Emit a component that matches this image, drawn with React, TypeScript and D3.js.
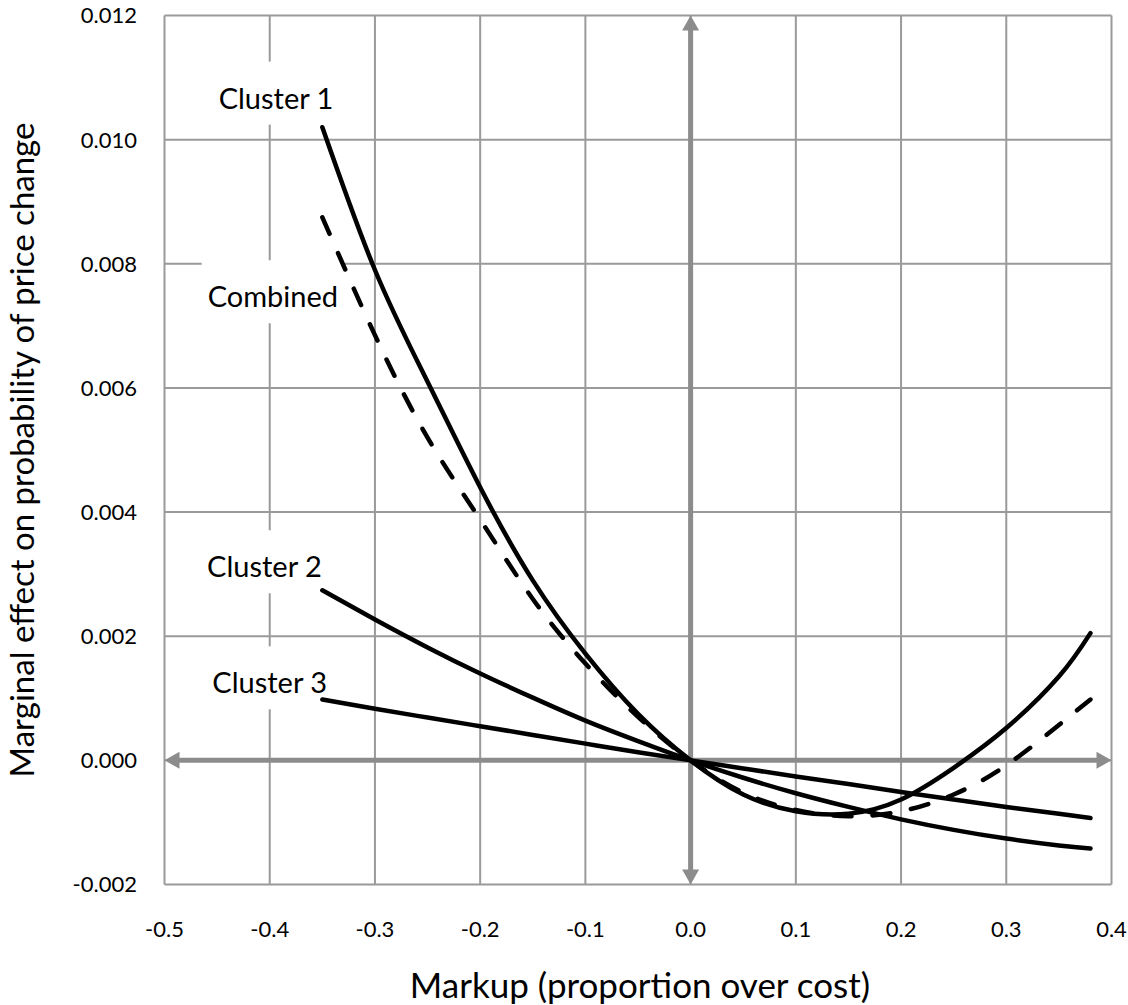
import React, { useEffect, useRef } from 'react';
import * as d3 from 'd3';

const markup = [-0.35, -0.3, -0.25, -0.2, -0.15, -0.1, -0.05, 0, 0.05, 0.1, 0.15, 0.2, 0.25, 0.3, 0.35, 0.38];
const cluster1 = [0.0102, 0.0079, 0.0061, 0.0044, 0.0029, 0.00172, 0.00075, 0, -0.00055, -0.00082, -0.00086, -0.00063, -0.00012, 0.00052, 0.00135, 0.00205];
const combined = [0.00875, 0.00685, 0.0052, 0.00388, 0.0026, 0.00156, 0.0007, 0, -0.00052, -0.0008, -0.0009, -0.00082, -0.00055, -0.00008, 0.00057, 0.00098];
const cluster2 = [0.00274, 0.00227, 0.00182, 0.0014, 0.00101, 0.00064, 0.00031, 0, -0.00028, -0.00053, -0.00075, -0.00095, -0.00112, -0.00126, -0.00137, -0.00142];
const cluster3 = [0.00098, 0.00083, 0.00069, 0.00055, 0.00041, 0.00027, 0.00013, 0, -0.00013, -0.00026, -0.00038, -0.00051, -0.00063, -0.00075, -0.00086, -0.00093];

const xTicks = [-0.5, -0.4, -0.3, -0.2, -0.1, 0, 0.1, 0.2, 0.3, 0.4];
const yTicks = [-0.002, 0, 0.002, 0.004, 0.006, 0.008, 0.01, 0.012];

const labels = [
  { name: 'Cluster 1', x: -0.394, y: 0.0105 },
  { name: 'Combined', x: -0.397, y: 0.0073 },
  { name: 'Cluster 2', x: -0.405, y: 0.00295 },
  { name: 'Cluster 3', x: -0.4, y: 0.00108 },
];

const font = 'Lato, "Open Sans", sans-serif';
// hyphen minus like the original, not d3's unicode minus
const fmt = (p: number) => (d: number) => d.toFixed(p);

export default function App() {
  const ref = useRef<SVGSVGElement>(null);

  useEffect(() => {
    const svg = d3.select(ref.current);
    svg.selectAll('*').remove();

    const x = d3.scaleLinear().domain([-0.5, 0.4]).range([164.5, 1111.5]);
    const y = d3.scaleLinear().domain([-0.002, 0.012]).range([884.5, 15.5]);
    const grid = '#9a9a9a';
    const axisCol = '#8c8c8c';

    const g = svg.append('g');

    // grid
    g.selectAll('.vx').data(xTicks).enter().append('line')
      .attr('x1', d => x(d)).attr('x2', d => x(d))
      .attr('y1', y(0.012)).attr('y2', y(-0.002))
      .attr('stroke', grid).attr('stroke-width', 2);
    g.selectAll('.hy').data(yTicks).enter().append('line')
      .attr('y1', d => y(d)).attr('y2', d => y(d))
      .attr('x1', x(-0.5)).attr('x2', x(0.4))
      .attr('stroke', grid).attr('stroke-width', 2);

    // tick labels
    g.selectAll('.xt').data(xTicks).enter().append('text')
      .attr('x', d => x(d)).attr('y', 937)
      .attr('text-anchor', 'middle')
      .style('font-family', font).style('font-size', '22px')
      .text(fmt(1));
    g.selectAll('.yt').data(yTicks).enter().append('text')
      .attr('x', 137).attr('y', d => y(d)).attr('dy', '0.36em')
      .attr('text-anchor', 'end')
      .style('font-family', font).style('font-size', '22px')
      .text(fmt(3));

    // axis titles
    g.append('text')
      .attr('x', 640).attr('y', 998).attr('text-anchor', 'middle')
      .style('font-family', font).style('font-size', '35px')
      .text('Markup (proportion over cost)');
    g.append('text')
      .attr('transform', 'translate(34,450) rotate(-90)').attr('text-anchor', 'middle')
      .style('font-family', font).style('font-size', '33px')
      .text('Marginal effect on probability of price change');

    // arrowed zero axes
    const head = (px: number, py: number, dir: string) => {
      const L = 15, W = 8.5;
      let pts: number[][] = [];
      if (dir === 'r') pts = [[px, py], [px - L, py - W], [px - L, py + W]];
      if (dir === 'l') pts = [[px, py], [px + L, py - W], [px + L, py + W]];
      if (dir === 'u') pts = [[px, py], [px - W, py + L], [px + W, py + L]];
      if (dir === 'd') pts = [[px, py], [px - W, py - L], [px + W, py - L]];
      g.append('polygon').attr('points', pts.map(p => p.join(',')).join(' ')).attr('fill', axisCol);
    };
    g.append('line')
      .attr('x1', x(-0.5) + 12).attr('x2', x(0.4) - 12)
      .attr('y1', y(0)).attr('y2', y(0))
      .attr('stroke', axisCol).attr('stroke-width', 5);
    g.append('line')
      .attr('x1', x(0)).attr('x2', x(0))
      .attr('y1', y(0.012) + 12).attr('y2', y(-0.002) - 12)
      .attr('stroke', axisCol).attr('stroke-width', 5);
    head(x(-0.5), y(0), 'l');
    head(x(0.4), y(0), 'r');
    head(x(0), y(0.012), 'u');
    head(x(0), y(-0.002), 'd');

    // labels with white backing
    labels.forEach(l => {
      const t = g.append('text')
        .attr('x', x(l.x)).attr('y', y(l.y)).attr('text-anchor', 'middle')
        .style('font-family', font).style('font-size', '29px')
        .text(l.name);
      const bb = (t.node() as SVGTextElement).getBBox();
      g.insert('rect', () => t.node())
        .attr('x', bb.x - 6).attr('y', bb.y - 18)
        .attr('width', bb.width + 12).attr('height', bb.height + 28)
        .attr('fill', '#fff');
    });

    // curves
    const line = d3.line<number>()
      .x((_, i) => x(markup[i]))
      .y(d => y(d))
      .curve(d3.curveNatural);
    const series = [
      { v: cluster3, dash: null },
      { v: cluster2, dash: null },
      { v: combined, dash: '18 21' },
      { v: cluster1, dash: null },
    ];
    series.forEach(s => {
      g.append('path')
        .attr('d', line(s.v))
        .attr('fill', 'none')
        .attr('stroke', '#000')
        .attr('stroke-width', 4.5)
        .attr('stroke-linecap', 'round')
        .attr('stroke-dasharray', s.dash);
    });
  }, []);

  return (
    <svg ref={ref} width={1128} height={1005}
      style={{ position: 'absolute', left: 0, top: 0, background: '#fff' }} />
  );
}
